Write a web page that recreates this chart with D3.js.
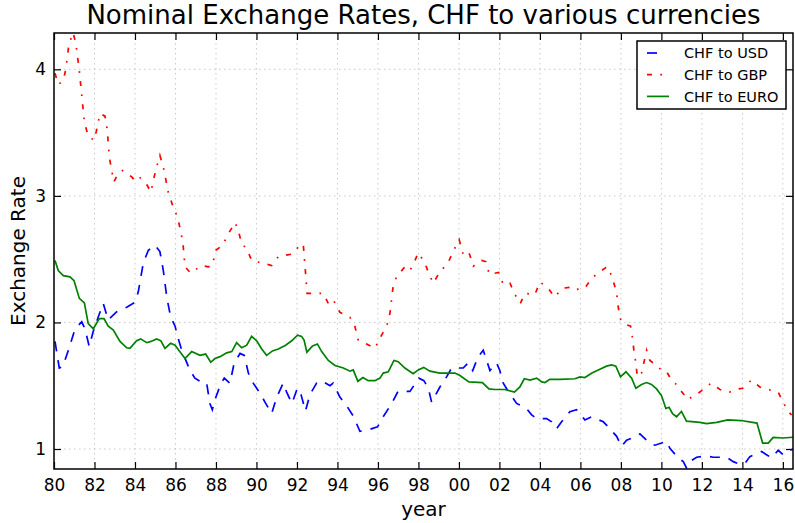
<!DOCTYPE html>
<html lang="en">
<head>
<meta charset="UTF-8">
<title>Nominal Exchange Rates</title>
<script src="https://d3js.org/d3.v7.min.js"></script>
<style>
  body { margin: 0; background: #fff; }
  svg { display: block; font-family: "DejaVu Sans", sans-serif; }
  .tick text { font-size: 17px; fill: #000; }
</style>
</head>
<body>
<svg width="795" height="523"></svg>
<script>
// [year, rate]
var usd = [[1980.05,1.85],[1980.26,1.64],[1980.43,1.65],[1980.71,1.78],[1981.04,1.95],[1981.37,2.005],[1981.53,1.95],[1981.74,1.81],[1981.94,1.93],[1982.19,2.045],[1982.43,2.15],[1982.68,2.02],[1983.10,2.085],[1983.59,2.12],[1984.00,2.16],[1984.16,2.24],[1984.41,2.47],[1984.66,2.57],[1984.99,2.61],[1985.23,2.56],[1985.40,2.41],[1985.57,2.20],[1985.76,2.045],[1985.98,1.97],[1986.14,1.87],[1986.31,1.78],[1986.72,1.62],[1986.96,1.56],[1987.37,1.52],[1987.54,1.52],[1987.70,1.36],[1987.82,1.31],[1987.95,1.39],[1988.25,1.52],[1988.41,1.56],[1988.69,1.52],[1988.90,1.68],[1989.19,1.755],[1989.40,1.74],[1989.60,1.60],[1989.84,1.52],[1990.22,1.43],[1990.42,1.37],[1990.75,1.28],[1991.00,1.41],[1991.32,1.52],[1991.49,1.45],[1991.75,1.36],[1992.02,1.48],[1992.20,1.43],[1992.42,1.30],[1992.64,1.43],[1992.97,1.52],[1993.22,1.54],[1993.63,1.50],[1993.79,1.52],[1994.12,1.41],[1994.42,1.35],[1994.78,1.26],[1995.11,1.14],[1995.48,1.15],[1995.98,1.175],[1996.26,1.255],[1996.68,1.36],[1996.99,1.455],[1997.58,1.455],[1998.02,1.56],[1998.27,1.54],[1998.49,1.48],[1998.65,1.37],[1999.06,1.49],[1999.39,1.57],[1999.64,1.64],[2000.21,1.64],[2000.46,1.68],[2000.68,1.62],[2000.95,1.73],[2001.20,1.78],[2001.37,1.70],[2001.53,1.62],[2001.86,1.68],[2002.02,1.62],[2002.19,1.52],[2002.38,1.47],[2002.85,1.36],[2003.34,1.32],[2003.59,1.27],[2003.84,1.24],[2004.33,1.24],[2004.58,1.215],[2004.82,1.16],[2005.07,1.215],[2005.48,1.295],[2005.81,1.31],[2006.22,1.23],[2006.55,1.255],[2007.13,1.215],[2007.37,1.175],[2007.79,1.10],[2008.03,1.02],[2008.28,1.07],[2008.78,1.10],[2008.94,1.12],[2009.43,1.045],[2009.68,1.03],[2010.26,1.06],[2010.42,1.005],[2010.83,0.93],[2011.08,0.90],[2011.24,0.85],[2011.49,0.91],[2011.74,0.935],[2012.23,0.945],[2012.56,0.935],[2013.22,0.935],[2013.55,0.90],[2013.79,0.885],[2014.12,0.885],[2014.37,0.94],[2014.95,0.98],[2015.19,0.955],[2015.44,0.93],[2015.77,0.99],[2016.01,0.955],[2016.35,0.99],[2016.50,1.0]];

var gbp = [[1980.05,3.97],[1980.21,3.88],[1980.46,3.91],[1980.58,4.00],[1980.74,4.20],[1980.95,4.29],[1981.09,4.19],[1981.25,3.99],[1981.38,3.78],[1981.50,3.585],[1981.69,3.47],[1981.99,3.44],[1982.16,3.56],[1982.27,3.65],[1982.52,3.63],[1982.63,3.52],[1982.73,3.31],[1982.85,3.20],[1982.96,3.11],[1983.18,3.18],[1983.39,3.20],[1983.84,3.15],[1984.00,3.12],[1984.21,3.15],[1984.58,3.09],[1984.79,3.03],[1984.90,3.12],[1985.07,3.23],[1985.23,3.32],[1985.40,3.23],[1985.64,3.03],[1985.89,2.91],[1986.11,2.83],[1986.36,2.64],[1986.47,2.44],[1986.75,2.39],[1987.29,2.45],[1987.62,2.44],[1987.82,2.45],[1987.99,2.57],[1988.33,2.61],[1988.61,2.70],[1988.94,2.79],[1989.10,2.73],[1989.27,2.62],[1989.52,2.585],[1989.76,2.49],[1990.26,2.47],[1990.75,2.45],[1991.08,2.52],[1991.74,2.54],[1992.15,2.61],[1992.31,2.62],[1992.42,2.40],[1992.50,2.23],[1992.80,2.23],[1993.30,2.23],[1993.55,2.15],[1993.79,2.18],[1994.12,2.08],[1994.62,2.04],[1994.86,1.97],[1995.03,1.86],[1995.44,1.83],[1995.85,1.795],[1996.18,1.90],[1996.43,1.97],[1996.59,2.07],[1996.76,2.30],[1996.92,2.36],[1997.33,2.44],[1997.58,2.41],[1997.83,2.49],[1997.99,2.55],[1998.32,2.47],[1998.48,2.40],[1998.73,2.31],[1999.06,2.40],[1999.46,2.47],[1999.73,2.565],[2000.01,2.655],[2000.24,2.52],[2000.52,2.54],[2000.71,2.445],[2001.12,2.49],[2001.33,2.48],[2001.50,2.38],[2001.96,2.395],[2002.19,2.30],[2002.52,2.31],[2002.77,2.22],[2003.03,2.15],[2003.26,2.23],[2003.75,2.22],[2004.00,2.32],[2004.41,2.27],[2004.72,2.20],[2005.12,2.27],[2005.57,2.28],[2005.73,2.26],[2006.22,2.27],[2006.55,2.35],[2007.05,2.41],[2007.32,2.44],[2007.46,2.40],[2007.62,2.33],[2007.79,2.23],[2007.87,2.12],[2007.99,2.02],[2008.15,1.99],[2008.48,1.97],[2008.58,1.87],[2008.64,1.78],[2008.74,1.68],[2008.81,1.57],[2009.02,1.60],[2009.27,1.78],[2009.43,1.70],[2009.76,1.66],[2010.09,1.61],[2010.26,1.61],[2010.50,1.545],[2010.80,1.50],[2010.91,1.47],[2011.32,1.39],[2011.49,1.41],[2011.90,1.45],[2012.31,1.505],[2012.48,1.52],[2012.89,1.47],[2013.38,1.45],[2013.63,1.47],[2014.01,1.48],[2014.45,1.545],[2014.86,1.49],[2015.27,1.47],[2015.77,1.45],[2016.01,1.37],[2016.26,1.295],[2016.43,1.27]];

var euro = [[1980.05,2.49],[1980.21,2.41],[1980.46,2.37],[1980.79,2.36],[1980.99,2.33],[1981.25,2.19],[1981.50,2.155],[1981.69,1.99],[1981.94,1.95],[1982.24,2.03],[1982.47,2.03],[1982.68,1.97],[1982.93,1.94],[1983.26,1.85],[1983.59,1.80],[1983.75,1.795],[1984.08,1.855],[1984.28,1.87],[1984.58,1.84],[1984.79,1.85],[1985.07,1.87],[1985.28,1.855],[1985.48,1.795],[1985.76,1.835],[1985.98,1.82],[1986.19,1.775],[1986.47,1.715],[1986.80,1.77],[1987.21,1.74],[1987.49,1.75],[1987.74,1.685],[1987.95,1.715],[1988.20,1.73],[1988.53,1.76],[1988.78,1.77],[1989.02,1.84],[1989.27,1.80],[1989.52,1.82],[1989.76,1.89],[1990.01,1.855],[1990.26,1.79],[1990.50,1.74],[1990.79,1.775],[1991.08,1.79],[1991.44,1.82],[1991.74,1.855],[1992.03,1.90],[1992.23,1.89],[1992.35,1.86],[1992.49,1.765],[1992.77,1.815],[1993.01,1.83],[1993.22,1.77],[1993.55,1.70],[1993.88,1.66],[1994.29,1.64],[1994.62,1.615],[1994.78,1.625],[1995.01,1.535],[1995.26,1.565],[1995.52,1.54],[1995.85,1.54],[1996.10,1.56],[1996.26,1.60],[1996.51,1.61],[1996.79,1.70],[1997.00,1.69],[1997.33,1.64],[1997.74,1.595],[1997.99,1.625],[1998.26,1.645],[1998.57,1.615],[1999.06,1.60],[1999.80,1.60],[2000.05,1.58],[2000.49,1.53],[2001.16,1.525],[2001.48,1.475],[2001.78,1.47],[2002.27,1.47],[2002.74,1.45],[2003.01,1.49],[2003.23,1.555],[2003.51,1.545],[2003.84,1.56],[2004.09,1.53],[2004.25,1.525],[2004.49,1.55],[2004.99,1.55],[2005.73,1.555],[2005.98,1.57],[2006.22,1.565],[2006.57,1.60],[2006.96,1.63],[2007.29,1.655],[2007.54,1.665],[2007.75,1.655],[2007.98,1.57],[2008.25,1.61],[2008.53,1.56],[2008.74,1.48],[2009.02,1.51],[2009.27,1.525],[2009.51,1.51],[2009.76,1.475],[2010.01,1.42],[2010.22,1.32],[2010.38,1.33],[2010.55,1.28],[2010.75,1.255],[2010.99,1.297],[2011.24,1.22],[2011.90,1.21],[2012.23,1.20],[2012.73,1.21],[2013.28,1.23],[2013.93,1.225],[2014.72,1.205],[2015.00,1.047],[2015.28,1.047],[2015.52,1.092],[2016.01,1.087],[2016.49,1.093]];

var xTicks = d3.range(1980, 2017, 2);
var yTicks = [1, 2, 3, 4];
var seriesNames = ["CHF to USD", "CHF to GBP", "CHF to EURO"];

var plotLeft = 54, plotRight = 793, plotTop = 33, plotBottom = 469;

var svg = d3.select("svg");

var x = d3.scaleLinear().domain([1980, 2016.5]).range([plotLeft, plotRight]);
var y = d3.scaleLinear().domain([0.842, 4.287]).range([plotBottom, plotTop]);

svg.append("clipPath").attr("id", "plot")
  .append("rect")
  .attr("x", plotLeft).attr("y", plotTop)
  .attr("width", plotRight - plotLeft).attr("height", plotBottom - plotTop);

// dotted grid
var grid = svg.append("g")
  .attr("stroke", "#bbb")
  .attr("stroke-width", 0.8)
  .attr("stroke-dasharray", "1.5,3.5");
grid.selectAll(".gx").data(xTicks).enter().append("line")
  .attr("x1", d => x(d)).attr("x2", d => x(d))
  .attr("y1", plotTop).attr("y2", plotBottom);
grid.selectAll(".gy").data(yTicks).enter().append("line")
  .attr("x1", plotLeft).attr("x2", plotRight)
  .attr("y1", d => y(d)).attr("y2", d => y(d));

// axes with inward ticks on all four sides
var fmtYear = d => String(d % 100).padStart(2, "0");

svg.append("g").attr("transform", "translate(0," + plotBottom + ")")
  .call(d3.axisBottom(x).tickValues(xTicks).tickSize(-7).tickPadding(10).tickFormat(fmtYear));
svg.append("g").attr("transform", "translate(0," + plotTop + ")")
  .call(d3.axisTop(x).tickValues(xTicks).tickSize(-7).tickFormat(""));
svg.append("g").attr("transform", "translate(" + plotLeft + ",0)")
  .call(d3.axisLeft(y).tickValues(yTicks).tickSize(-7).tickPadding(8).tickFormat(d3.format("d")));
svg.append("g").attr("transform", "translate(" + plotRight + ",0)")
  .call(d3.axisRight(y).tickValues(yTicks).tickSize(-7).tickFormat(""));

svg.selectAll(".domain").remove();
svg.selectAll(".tick line").attr("stroke", "#000").attr("stroke-width", 1.2);
svg.selectAll(".tick text").attr("font-family", "DejaVu Sans").attr("font-size", 17);

// lines
var line = d3.line().x(d => x(d[0])).y(d => y(d[1]));
var lines = svg.append("g").attr("clip-path", "url(#plot)").attr("fill", "none").attr("stroke-width", 1.7);

lines.append("path").datum(usd).attr("d", line)
  .attr("stroke", "#0000ff").attr("stroke-dasharray", "10,9");
lines.append("path").datum(gbp).attr("d", line)
  .attr("stroke", "#ff0000").attr("stroke-dasharray", "5,8.3,1.7,8.3");
lines.append("path").datum(euro).attr("d", line)
  .attr("stroke", "#008000");

// frame
svg.append("rect")
  .attr("x", plotLeft).attr("y", plotTop)
  .attr("width", plotRight - plotLeft).attr("height", plotBottom - plotTop)
  .attr("fill", "none").attr("stroke", "#000").attr("stroke-width", 1.5);

// titles
svg.append("text").attr("x", (plotLeft + plotRight) / 2).attr("y", 24)
  .attr("text-anchor", "middle").attr("font-size", 26)
  .text("Nominal Exchange Rates, CHF to various currencies");
svg.append("text").attr("x", (plotLeft + plotRight) / 2).attr("y", 516)
  .attr("text-anchor", "middle").attr("font-size", 20)
  .text("year");
svg.append("text").attr("transform", "translate(25," + (plotTop + plotBottom) / 2 + ") rotate(-90)")
  .attr("text-anchor", "middle").attr("font-size", 20)
  .text("Exchange Rate");

// legend
var legend = svg.append("g");
legend.append("rect")
  .attr("x", 637).attr("y", 41).attr("width", 149).attr("height", 68)
  .attr("fill", "#fff").attr("stroke", "#000").attr("stroke-width", 1.5);
var styles = [
  { color: "#0000ff", dash: "10,20" },
  { color: "#ff0000", dash: "5,8.3,1.7,8.3" },
  { color: "#008000", dash: null }
];
seriesNames.forEach(function (name, i) {
  var ly = 53 + i * 21.7;
  legend.append("line")
    .attr("x1", 647).attr("x2", 669).attr("y1", ly).attr("y2", ly)
    .attr("stroke", styles[i].color).attr("stroke-width", 1.7)
    .attr("stroke-dasharray", styles[i].dash);
  legend.append("text")
    .attr("x", 684).attr("y", ly).attr("dy", "0.36em")
    .attr("font-size", 14.5)
    .text(name);
});
</script>
</body>
</html>
